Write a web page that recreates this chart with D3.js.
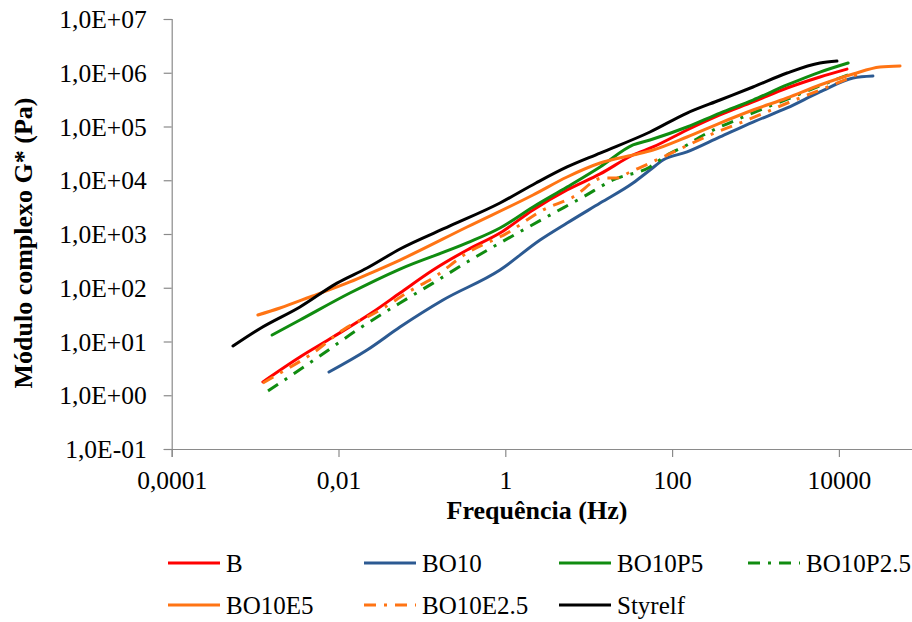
<!DOCTYPE html>
<html>
<head>
<meta charset="utf-8">
<script src="https://cdn.jsdelivr.net/npm/d3@7/dist/d3.min.js"></script>
<style>
  html, body { margin: 0; padding: 0; background: #fff; }
  svg { display: block; }
  svg text { font-family: "Liberation Serif", Tinos, "Times New Roman", Times, "Nimbus Roman", "DejaVu Serif", serif !important; fill: #000; }
</style>
</head>
<body>
<svg id="chart" width="912" height="622"></svg>
<script>
// Complex modulus G* (Pa) versus frequency (Hz) for each binder
const freqB = [1.24e-3, 3.45e-3, 8.59e-3, 0.0259, 0.0546, 0.136, 0.348, 0.863, 2.15, 5.5, 13.7, 34.0, 59.0, 151, 375, 933, 2390, 5930, 12500];
const gB    = [1.77, 5.15, 12.1, 35.4, 79.8, 214, 504, 1040, 2800, 6590, 13100, 29500, 41600, 86100, 164000, 286000, 520000, 834000, 1.17e6];

const freqBO10 = [7.69e-3, 0.022, 0.0546, 0.179, 0.863, 2.61, 5.5, 13.7, 34.0, 54.3, 77.8, 151, 375, 933, 2390, 5930, 14800, 25600];
const gBO10    = [2.71, 6.95, 18.6, 59.2, 214, 773, 1600, 3770, 8890, 15500, 23800, 33600, 63800, 121000, 221000, 439000, 798000, 870000];

const freqBO10P5 = [1.6e-3, 3.45e-3, 0.0137, 0.0546, 0.348, 0.863, 2.15, 5.5, 13.7, 34.0, 54.3, 151, 375, 933, 2390, 5930, 12900];
const gBO10P5    = [13.2, 25.1, 79.8, 223, 681, 1290, 3180, 7480, 17700, 45300, 56100, 97900, 178000, 311000, 592000, 1.03e6, 1.52e6];

const freqBO10P25 = [1.43e-3, 5.52e-3, 0.0181, 0.0546, 0.136, 0.348, 0.863, 3.44, 8.55, 19.5, 54.3, 86.9, 151, 216, 708, 2590, 7200, 14800];
const gBO10P25    = [1.2, 4.93, 17.8, 52.0, 122, 301, 681, 2250, 4880, 10100, 17700, 29500, 45300, 63800, 150000, 339000, 645000, 989000];

const freqBO10E5 = [1.08e-3, 1.99e-3, 4.55e-3, 0.0137, 0.0259, 0.0546, 0.348, 2.15, 5.5, 13.7, 34.0, 59.0, 151, 375, 933, 2390, 5930, 14800, 31100, 54100];
const gBO10E5    = [31.1, 42.0, 67.3, 128, 196, 328, 1350, 5320, 11500, 20900, 29500, 36500, 63800, 116000, 203000, 339000, 592000, 948000, 1.28e6, 1.34e6];

const freqBO10E25 = [1.24e-3, 1.99e-3, 4.94e-3, 0.0113, 0.0315, 0.0719, 0.136, 0.348, 1.05, 2.83, 6.49, 14.8, 21.8, 31.3, 54.3, 77.8, 124, 284, 859, 2590, 7820, 19500];
const gBO10E25    = [1.69, 2.59, 6.11, 16.4, 38.5, 87.1, 152, 444, 1040, 2800, 4880, 11000, 11000, 14200, 20900, 27100, 38100, 69500, 138000, 286000, 566000, 1.03e6];

const freqStyrelf = [5.43e-4, 1.15e-3, 3.45e-3, 9.6e-3, 0.022, 0.0546, 0.217, 0.863, 2.33, 5.5, 13.7, 54.3, 151, 375, 933, 2390, 5930, 9480];
const gStyrelf    = [8.24, 17.5, 43.9, 122, 233, 526, 1410, 3770, 8890, 17700, 32100, 79000, 178000, 311000, 543000, 989000, 1.52e6, 1.65e6];

const seriesNames = ["B", "BO10", "BO10P5", "BO10P2.5", "BO10E5", "BO10E2.5", "Styrelf"];
const xTickValues = [1e-4, 1e-2, 1, 100, 1e4];
const xTickLabels = ["0,0001", "0,01", "1", "100", "10000"];
const yTickValues = [1e-1, 1e0, 1e1, 1e2, 1e3, 1e4, 1e5, 1e6, 1e7];
const yTickLabels = ["1,0E-01", "1,0E+00", "1,0E+01", "1,0E+02", "1,0E+03", "1,0E+04", "1,0E+05", "1,0E+06", "1,0E+07"];

const series = [
  { name: seriesNames[0], f: freqB,       g: gB,       color: "#ff0000", dash: null },
  { name: seriesNames[1], f: freqBO10,    g: gBO10,    color: "#2c5a92", dash: null },
  { name: seriesNames[2], f: freqBO10P5,  g: gBO10P5,  color: "#108c10", dash: null },
  { name: seriesNames[3], f: freqBO10P25, g: gBO10P25, color: "#108c10", dash: "12,8,3,8" },
  { name: seriesNames[4], f: freqBO10E5,  g: gBO10E5,  color: "#ff7414", dash: null },
  { name: seriesNames[5], f: freqBO10E25, g: gBO10E25, color: "#ff7414", dash: "12,8,3,8" },
  { name: seriesNames[6], f: freqStyrelf, g: gStyrelf, color: "#000000", dash: null }
];

const svg = d3.select("#chart");
svg.append("rect").attr("width", 912).attr("height", 622).attr("fill", "#fff");

const plotLeft = 171.7, plotTop = 19, plotBottom = 449, decadeWidth = 83.4;
const x = d3.scaleLog().domain([1e-4, 1e5]).range([plotLeft, plotLeft + 9 * decadeWidth]);
const y = d3.scaleLog().domain([1e-1, 1e7]).range([plotBottom, plotTop]);

const axisColor = "#8a8a8a";

// y axis
const yAxis = svg.append("g").attr("transform", `translate(${plotLeft},0)`)
  .call(d3.axisLeft(y).tickValues(yTickValues).tickFormat((d, i) => yTickLabels[i]).tickSizeOuter(0).tickSize(8).tickPadding(17));
yAxis.attr("font-family", null);
yAxis.select(".domain").attr("stroke", axisColor).attr("stroke-width", 1.2);
yAxis.selectAll(".tick line").attr("stroke", axisColor).attr("stroke-width", 1.2);
yAxis.selectAll(".tick text").attr("font-size", 25.5).attr("dy", "0.34em");

// x axis
const xAxis = svg.append("g").attr("transform", `translate(0,${plotBottom})`)
  .call(d3.axisBottom(x).tickValues(xTickValues).tickFormat((d, i) => xTickLabels[i]).tickSizeOuter(0).tickSize(8).tickPadding(14));
xAxis.attr("font-family", null);
xAxis.select(".domain").attr("stroke", axisColor).attr("stroke-width", 1.2);
xAxis.selectAll(".tick line").attr("stroke", axisColor).attr("stroke-width", 1.2);
xAxis.selectAll(".tick text").attr("font-size", 25.5);

// axis titles
svg.append("text")
  .attr("x", 537).attr("y", 519)
  .attr("text-anchor", "middle")
  .attr("font-size", 26).attr("font-weight", "bold")
  .text("Frequência (Hz)");

svg.append("text")
  .attr("transform", "translate(32,243) rotate(-90)")
  .attr("text-anchor", "middle")
  .attr("font-size", 26).attr("font-weight", "bold")
  .text("Módulo complexo G* (Pa)");

// data lines
const line = d3.line()
  .x(d => x(d[0]))
  .y(d => y(d[1]))
  .curve(d3.curveMonotoneX);

const plot = svg.append("g");
series.forEach(s => {
  const pts = s.f.map((f, i) => [f, s.g[i]]);
  plot.append("path")
    .datum(pts)
    .attr("d", line)
    .attr("fill", "none")
    .attr("stroke", s.color)
    .attr("stroke-width", 3)
    .attr("stroke-linejoin", "round")
    .attr("stroke-linecap", s.dash ? "butt" : "round")
    .attr("stroke-dasharray", s.dash);
});

// legend: two rows, four columns
const legendCols = [168, 364, 559, 748];
const legendRows = [563, 605];
const legend = svg.append("g");
series.forEach((s, i) => {
  const cx = legendCols[i % 4], cy = legendRows[Math.floor(i / 4)];
  const g = legend.append("g").attr("transform", `translate(${cx},${cy})`);
  g.append("line")
    .attr("x1", 0).attr("x2", 52).attr("y1", 0).attr("y2", 0)
    .attr("stroke", s.color).attr("stroke-width", 3)
    .attr("stroke-dasharray", s.dash);
  g.append("text")
    .attr("x", 58).attr("y", 0).attr("dy", "0.34em")
    .attr("font-size", 25)
    .text(s.name);
});
</script>
</body>
</html>
